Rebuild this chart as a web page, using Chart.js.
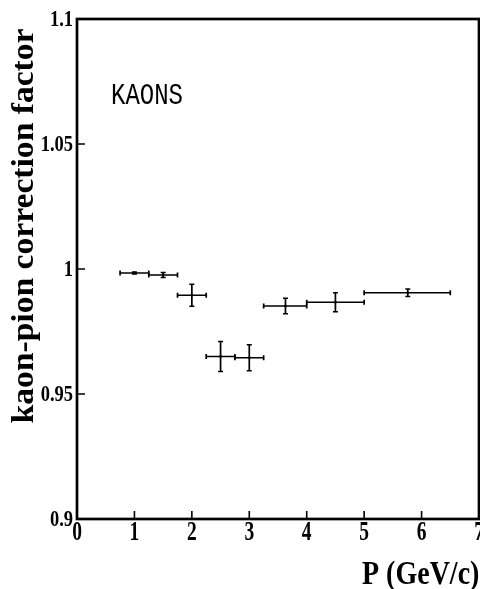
<!DOCTYPE html>
<html>
<head>
<meta charset="utf-8">
<script src="https://cdn.jsdelivr.net/npm/chart.js@4/dist/chart.umd.min.js"></script>
<style>
  html, body { margin: 0; padding: 0; background: #fff; }
  #wrap { width: 480px; height: 589px; }
</style>
</head>
<body>
<div id="wrap"><canvas id="kaonChart" width="480" height="589"></canvas></div>
<script>
// momentum bins (GeV/c)
const pMid  = [1.0, 1.5, 2.0, 2.5, 3.0, 3.63, 4.5, 5.76];
const pLow  = [0.75, 1.25, 1.75, 2.25, 2.75, 3.25, 4.0, 5.0];
const pHigh = [1.25, 1.75, 2.25, 2.75, 3.25, 4.0, 5.0, 6.5];
// kaon-pion correction factor and its error
const factor    = [0.9984, 0.9976, 0.9895, 0.9650, 0.9645, 0.9852, 0.9867, 0.9905];
const factorErr = [0.0004, 0.0010, 0.0044, 0.0060, 0.0052, 0.0031, 0.0038, 0.0015];

const xTicks = [0, 1, 2, 3, 4, 5, 6, 7];
const yTicks = [0.9, 0.95, 1, 1.05, 1.1];

const xTitle = 'P (GeV/c)';
const yTitle = 'kaon-pion correction factor';
const tag = 'KAONS';

const SERIF = '"Liberation Serif", "Times New Roman", serif';

// text a bit taller than wide, as in the original picture
function stretchText(ctx, txt, x, y, font, sy, align) {
    ctx.save();
    ctx.translate(x, y);
    ctx.scale(1, sy);
    ctx.font = font;
    ctx.textAlign = align;
    ctx.textBaseline = 'alphabetic';
    ctx.fillStyle = '#000';
    ctx.fillText(txt, 0, 0);
    ctx.restore();
}

const framePlugin = {
    id: 'frameAndBars',
    afterDatasetsDraw(chart) {
        const ctx = chart.ctx;
        const xs = chart.scales.x;
        const ys = chart.scales.y;
        const a = chart.chartArea;

        ctx.save();
        ctx.strokeStyle = '#000';
        ctx.lineCap = 'butt';

        // error bars
        ctx.lineWidth = 1.7;
        const cap = 2.5;
        for (let i = 0; i < pMid.length; i++) {
            const x0 = xs.getPixelForValue(pLow[i]);
            const x1 = xs.getPixelForValue(pHigh[i]);
            const xc = xs.getPixelForValue(pMid[i]);
            const yc = ys.getPixelForValue(factor[i]);
            const yt = ys.getPixelForValue(factor[i] + factorErr[i]);
            const yb = ys.getPixelForValue(factor[i] - factorErr[i]);
            ctx.beginPath();
            ctx.moveTo(x0, yc); ctx.lineTo(x1, yc);
            ctx.moveTo(x0, yc - cap); ctx.lineTo(x0, yc + cap);
            ctx.moveTo(x1, yc - cap); ctx.lineTo(x1, yc + cap);
            ctx.moveTo(xc, yt); ctx.lineTo(xc, yb);
            ctx.moveTo(xc - cap, yt); ctx.lineTo(xc + cap, yt);
            ctx.moveTo(xc - cap, yb); ctx.lineTo(xc + cap, yb);
            ctx.stroke();
        }

        // frame
        ctx.lineWidth = 2.7;
        ctx.strokeRect(a.left, a.top, a.right - a.left, a.bottom - a.top);

        // inward tick marks
        ctx.lineWidth = 1.6;
        ctx.beginPath();
        xTicks.forEach(v => {
            const px = xs.getPixelForValue(v);
            ctx.moveTo(px, a.bottom);
            ctx.lineTo(px, a.bottom - 8);
        });
        yTicks.forEach(v => {
            const py = ys.getPixelForValue(v);
            ctx.moveTo(a.left, py);
            ctx.lineTo(a.left + 8, py);
        });
        ctx.stroke();

        // tick labels
        xTicks.forEach(v => {
            stretchText(ctx, String(v), xs.getPixelForValue(v), a.bottom + 21,
                'bold 19.5px ' + SERIF, 1.4, 'center');
        });
        yTicks.forEach(v => {
            stretchText(ctx, String(parseFloat(v.toFixed(2))), a.left - 4,
                ys.getPixelForValue(v) + 7.3, 'bold 18.5px ' + SERIF, 1.2, 'right');
        });

        // axis titles
        stretchText(ctx, xTitle, 362, 584, 'bold 28px ' + SERIF, 1.22, 'left');

        ctx.save();
        ctx.translate(33, 226);
        ctx.rotate(-Math.PI / 2);
        ctx.scale(1.05, 1);
        ctx.font = 'bold 32px ' + SERIF;
        ctx.textAlign = 'center';
        ctx.textBaseline = 'alphabetic';
        ctx.fillStyle = '#000';
        ctx.fillText(yTitle, 0, 0);
        ctx.restore();

        // label inside the frame
        stretchText(ctx, tag, 111, 104, '24px "Liberation Mono", "Courier New", monospace', 1.23, 'left');

        ctx.restore();
    }
};

const ctx = document.getElementById('kaonChart').getContext('2d');
const kaonChart = new Chart(ctx, {
    type: 'scatter',
    data: {
        datasets: [{
            label: tag,
            data: pMid.map((p, i) => ({ x: p, y: factor[i] })),
            pointStyle: 'rect',
            pointRadius: 1.6,
            pointBackgroundColor: '#000',
            pointBorderColor: '#000',
            pointBorderWidth: 0,
            showLine: false
        }]
    },
    options: {
        responsive: false,
        animation: false,
        events: [],
        layout: { autoPadding: false, padding: { left: 0, top: 19, right: 1, bottom: 0 } },
        plugins: {
            legend: { display: false },
            tooltip: { enabled: false }
        },
        scales: {
            x: {
                type: 'linear',
                min: 0,
                max: 7,
                grid: { display: false, drawTicks: false },
                border: { display: false },
                ticks: { display: false, stepSize: 1 },
                afterFit(scale) {
                    scale.height = 70;
                    scale.paddingLeft = 0;
                    scale.paddingRight = 0;
                }
            },
            y: {
                type: 'linear',
                min: 0.9,
                max: 1.1,
                grid: { display: false, drawTicks: false },
                border: { display: false },
                ticks: { display: false, stepSize: 0.05 },
                afterFit(scale) {
                    scale.width = 77;
                    scale.paddingTop = 0;
                    scale.paddingBottom = 0;
                }
            }
        }
    },
    plugins: [framePlugin]
});
</script>
</body>
</html>
